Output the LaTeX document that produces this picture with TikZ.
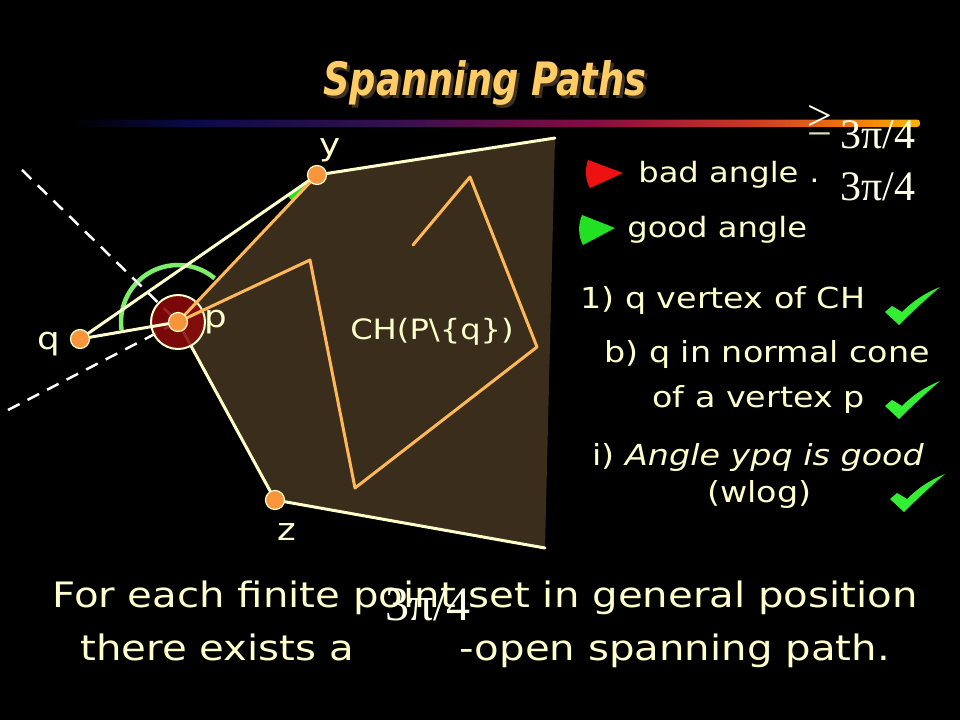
\documentclass[tikz,border=0pt]{standalone}
\usepackage[no-math]{fontspec}
\setmainfont[FakeStretch=1.15]{DejaVu Sans}
\newfontfamily\titlefont[FakeStretch=0.8]{DejaVu Sans}
\newfontfamily\pifont{Liberation Serif}
\usepackage{tikz}
\usetikzlibrary{calc,positioning}

\definecolor{cream}{HTML}{FFFFCC}
\definecolor{pitext}{HTML}{FFFFE8}
\definecolor{titlecol}{HTML}{FFCC66}
\definecolor{shadowcol}{HTML}{3E3022}
\definecolor{ptorange}{HTML}{F7943C}
\definecolor{pathorange}{HTML}{FFB858}
\definecolor{hullfill}{HTML}{3A2D1B}
\definecolor{arcgreen}{HTML}{7CEE6A}
\definecolor{goodgreen}{HTML}{22E022}
\definecolor{tickgreen}{HTML}{33EE33}
\definecolor{badred}{HTML}{EE1111}
\definecolor{pdisc}{HTML}{8C0A0A}
\definecolor{bar0}{HTML}{000000}
\definecolor{bar1}{HTML}{0A0A48}
\definecolor{bar2}{HTML}{35104F}
\definecolor{bar3}{HTML}{8A0A44}
\definecolor{bar4}{HTML}{C83A22}
\definecolor{bar5}{HTML}{EE7A10}
\definecolor{bar6}{HTML}{FFB400}

\pgfdeclarehorizontalshading{titlebar}{100bp}{color(0bp)=(bar0); color(25bp)=(bar0);
  color(32bp)=(bar1); color(44bp)=(bar2); color(56bp)=(bar3); color(65bp)=(bar4);
  color(71bp)=(bar5); color(75bp)=(bar6); color(100bp)=(bar6)}

\begin{document}
\begin{tikzpicture}[x=1pt, y=-1pt, semithick]

    \tikzstyle{pt} = [circle, fill=ptorange, draw=cream, line width=1.2pt, inner sep=0pt, minimum size=19pt]
    \tikzstyle{hull} = [draw=cream, line width=3pt, line cap=round]
    \tikzstyle{walk} = [draw=pathorange, line width=3pt, line join=round, line cap=round]
    \tikzstyle{cone} = [draw=white, line width=2.5pt, dash pattern=on 13pt off 9pt]
    \tikzstyle{lbl} = [text=cream, font=\fontsize{31}{34}\selectfont, inner sep=0pt]
    \tikzstyle{item} = [text=cream, font=\fontsize{29}{32}\selectfont, inner sep=0pt, anchor=base west]
    \tikzstyle{claim} = [text=cream, font=\fontsize{35}{40}\selectfont, inner sep=0pt]
    \tikzstyle{pival} = [text=pitext, font=\pifont\fontsize{42}{46}\selectfont, inner sep=0pt, anchor=base west]
    \tikzstyle{heading} = [font=\titlefont\fontsize{46}{50}\selectfont\bfseries\itshape, inner sep=0pt, anchor=base]

    \fill[black] (0,0) rectangle (960,720);
    \useasboundingbox (0,0) rectangle (960,720);

    % title and rule
    \node (shadow) [heading, text=shadowcol] at (488,98) {Spanning Paths};
    \node (title)  [heading, text=titlecol]  at (485,95) {Spanning Paths};
    \shade[shading=titlebar, rounded corners=3pt] (70,119.5) rectangle (920,127);

    % points of the set
    \coordinate (q) at (80,339);
    \coordinate (p) at (178,322);
    \coordinate (y) at (317,175);
    \coordinate (z) at (275,500);
    \coordinate (hulltop) at (555,138);
    \coordinate (hullbot) at (545,548);
    \coordinate (w1) at (310,260);
    \coordinate (w2) at (355,488);
    \coordinate (w3) at (537,347);
    \coordinate (w4) at (470,177);
    \coordinate (w5) at (413,245);
    \coordinate (cone1) at (22,170);
    \coordinate (cone2) at (8,410);

    \fill[hullfill] (p) -- (y) -- (hulltop) -- (hullbot) -- (z) -- cycle;
    \fill[goodgreen] (y) -- ($(y)!36pt!(q)$) -- ($(y)!36pt!(p)$) -- cycle;
    \draw[arcgreen, line width=4.5pt] (p) ++(-50:57) arc[start angle=-50, end angle=-188, radius=57];
    \draw[cone] (cone1) -- (p);
    \draw[cone] (cone2) -- (p);
    \draw[hull] (p) -- (z);
    \fill[pdisc, opacity=0.88] (p) circle[radius=27];
    \draw[cream, line width=2pt] (p) circle[radius=27];

    \draw[hull] (y) -- (hulltop);
    \draw[hull] (z) -- (hullbot);
    \draw[hull] (q) -- (y);
    \draw[hull] (q) -- (p);
    \draw[walk] (p) -- (y);
    \draw[walk] (p) -- (w1) -- (w2) -- (w3) -- (w4) -- (w5);

    \node (qdot) [pt] at (q) {};
    \node (pdot) [pt] at (p) {};
    \node (ydot) [pt] at (y) {};
    \node (zdot) [pt] at (z) {};

    \node (ylabel) [lbl] at (330,150) {y};
    \node (qlabel) [lbl] at (49,344) {q};
    \node (plabel) [lbl] at (216,322) {p};
    \node (zlabel) [lbl] at (287,532) {z};
    \node (hulllabel) [lbl, font=\fontsize{28}{32}\selectfont] at (432,332) {CH(P\textbackslash\{q\})};

    % legend
    \fill[badred] (588,160) -- (623,173) -- (590,188) .. controls (585,180) and (585,168) .. (588,160) -- cycle;
    \fill[goodgreen] (582,215) -- (615,228) -- (583,245) .. controls (578,236) and (578,224) .. (582,215) -- cycle;
    \node (bad)  [item, font=\fontsize{28}{32}\selectfont] at (638,182) {bad angle};
    \node (baddot) [item, font=\fontsize{28}{32}\selectfont] at (809,182) {.};
    \node (good) [item, font=\fontsize{28}{32}\selectfont] at (627,237) {good angle};
    \node (geq)  [text=pitext, font=\pifont\fontsize{44}{48}\selectfont, inner sep=0pt] at (820,118) {>};
    \node (bar)  [text=cream!75!gray, font=\pifont\fontsize{44}{48}\selectfont, inner sep=0pt] at (820,141) {−};
    \node (bound1) [pival] at (840,148) {3π/4};
    \node (bound2) [pival] at (840,200) {3π/4};

    % proof steps
    \node (step1) [item] at (580,308) {1) q vertex of CH};
    \node (step2) [item] at (604,362) {b) q in normal cone};
    \node (step3) [item] at (652,407) {of a vertex p};
    \node (step4) [item] at (592,465) {i) \textit{Angle ypq is good}};
    \node (step5) [item] at (707,502) {(wlog)};

    \foreach \tx/\ty in {885/323, 885/417, 890/510}
        \fill[tickgreen, shift={(\tx,\ty)}] (0,-11) -- (7,-17) -- (17,-11)
            .. controls (28,-22) and (40,-30) .. (55,-36)
            .. controls (42,-25) and (26,-10) .. (14,2) -- cycle;

    % statement
    \node (line1) [claim, anchor=base] at (485,607) {For each finite point set in general position};
    \node (line2) [claim, anchor=base west] at (80,660) {there exists a};
    \node (line3) [claim, anchor=base east] at (890,660) {-open spanning path.};
    \node (bound3) [pival, font=\pifont\fontsize{48}{52}\selectfont] at (385,620) {3π/4};

\end{tikzpicture}
\end{document}
